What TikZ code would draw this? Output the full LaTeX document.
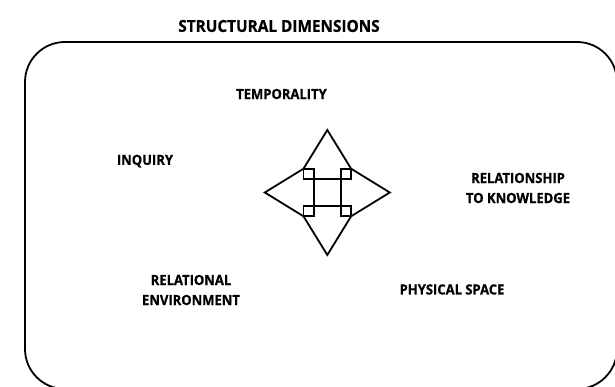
\documentclass[tikz,border=0pt]{standalone}
\usepackage{fontspec}
\setmainfont{Open Sans}
\newfontfamily\dimfont[FakeStretch=0.93, FakeBold=0.6]{Open Sans}
\begin{document}
\begin{tikzpicture}[
every node/.style={font=\dimfont\bfseries\fontsize{14}{20}\selectfont, align=center, inner sep=0pt},
x=1pt,
y=1pt
]
\useasboundingbox (0,0) rectangle (615,387);

% frame
\begin{scope}
\clip (0,0) rectangle (615,387);
\draw[line width=1.8pt, rounded corners=40pt] (25,-2) rectangle (617,345);
\end{scope}

% title
\node[font=\dimfont\bfseries\fontsize{16.5}{20}\selectfont] (title) at (279,361) {STRUCTURAL DIMENSIONS};

% dimensions
\node (temp) at (281.5,293) {TEMPORALITY};
\node (inq) at (145,226) {INQUIRY};
\node (know) at (518,199) {RELATIONSHIP\\TO KNOWLEDGE};
\node (env) at (191,97) {RELATIONAL\\ENVIRONMENT};
\node (space) at (452,97.5) {PHYSICAL SPACE};

% star in the middle
\coordinate (c) at (327.3,194.5);
\begin{scope}[shift={(c)}, line width=1.8pt, line join=miter]
\draw (0,62.5) -- (23.8,23.8) -- (62.5,0) -- (23.8,-23.8) -- (0,-62.5)
  -- (-23.8,-23.8) -- (-62.5,0) -- (-23.8,23.8) -- cycle;
\draw (-13.7,-13.7) rectangle (13.7,13.7);
\draw (-23.8,13.7) rectangle (-13.7,23.8);
\draw (13.7,13.7) rectangle (23.8,23.8);
\draw (-23.8,-23.8) rectangle (-13.7,-13.7);
\draw (13.7,-23.8) rectangle (23.8,-13.7);
\end{scope}

\end{tikzpicture}
\end{document}
